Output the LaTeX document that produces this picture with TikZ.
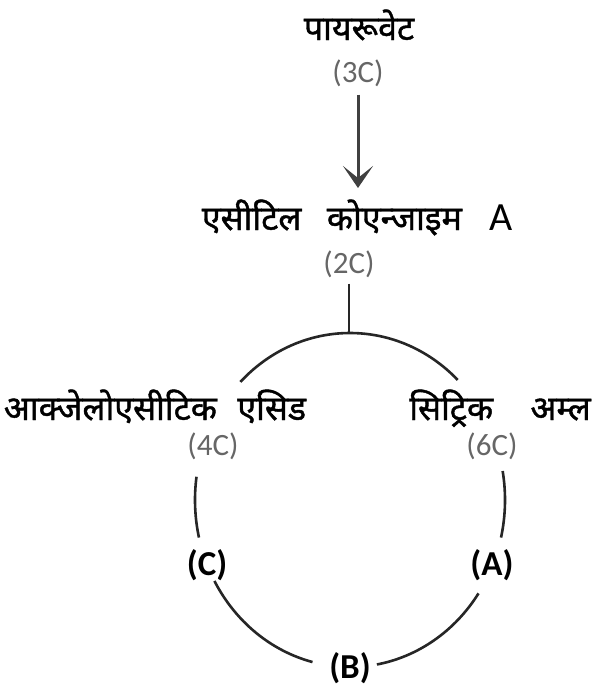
\documentclass[tikz,border=0pt]{standalone}
\usepackage{fontspec}
\setmainfont{Carlito}
\newfontfamily\deva[Script=Devanagari,FakeBold=1.2]{Noto Sans}
\usetikzlibrary{arrows.meta,calc}

\tikzset{
  hindi/.style={font=\deva\fontsize{34}{38}\selectfont, inner sep=0pt, anchor=base},
  carbon/.style={font=\fontsize{31}{34}\selectfont, text=black!60, inner sep=0pt},
  letter/.style={font=\bfseries\fontsize{35}{38}\selectfont, inner sep=0pt},
  ring/.style={line width=2.6pt, black!85},
  flow/.style={line width=3pt, black!75, -{Stealth[length=22pt,width=30pt,inset=12pt]}},
}

\begin{document}
\begin{tikzpicture}[x=1pt, y=-1pt]
  \useasboundingbox (0,0) rectangle (597,688);

  % pyruvate and acetyl coenzyme A
  \node[hindi] (pyr) at (359,40) {पायरूवेट};
  \node[carbon] (c3) at (358,73) {(3C)};
  \node[hindi] (acoa) at (357,230) {एसीटिल\hspace{0.75em}कोएन्जाइम\hspace{0.8em}{\fontspec{Carlito}\fontsize{40}{44}\selectfont A}};
  \node[carbon] (c2) at (349,264) {(2C)};

  % compounds of the cycle
  \node[hindi] (oaa) at (155,420) {आक्जेलोएसीटिक\hspace{0.6em}एसिड};
  \node[carbon] (c4) at (213,446) {(4C)};
  \node[hindi] (cit) at (500,420) {सिट्रिक\hspace{1.1em}अम्ल};
  \node[carbon] (c6) at (492,446) {(6C)};

  % unknown steps of the cycle
  \node[letter] (A) at (492,565) {(A)};
  \node[letter] (B) at (350,668) {(B)};
  \node[letter] (C) at (207,565) {(C)};

  % entry into the cycle
  \draw[flow] (c3.south) ++(0,8) -- (358,188);
  \coordinate (O) at (350,500);
  \coordinate (top) at ($(O)+(90:155pt and 167pt)$);
  \draw[ring] (c2.south) ++(0,6) coordinate (c2foot) -- (c2foot |- top);

  % the cycle, drawn as pieces of one ellipse
  \draw[ring] (O) ++(46:155pt and 167pt) arc[start angle=46, end angle=135, x radius=155pt, y radius=167pt];
  \draw[ring] (O) ++(172:155pt and 167pt) arc[start angle=172, end angle=193, x radius=155pt, y radius=167pt];
  \draw[ring] (O) ++(209:155pt and 167pt) arc[start angle=209, end angle=256, x radius=155pt, y radius=167pt];
  \draw[ring] (O) ++(280:155pt and 167pt) arc[start angle=280, end angle=326, x radius=155pt, y radius=167pt];
  \draw[ring] (O) ++(-13:155pt and 167pt) arc[start angle=-13, end angle=10, x radius=155pt, y radius=167pt];
\end{tikzpicture}
\end{document}
